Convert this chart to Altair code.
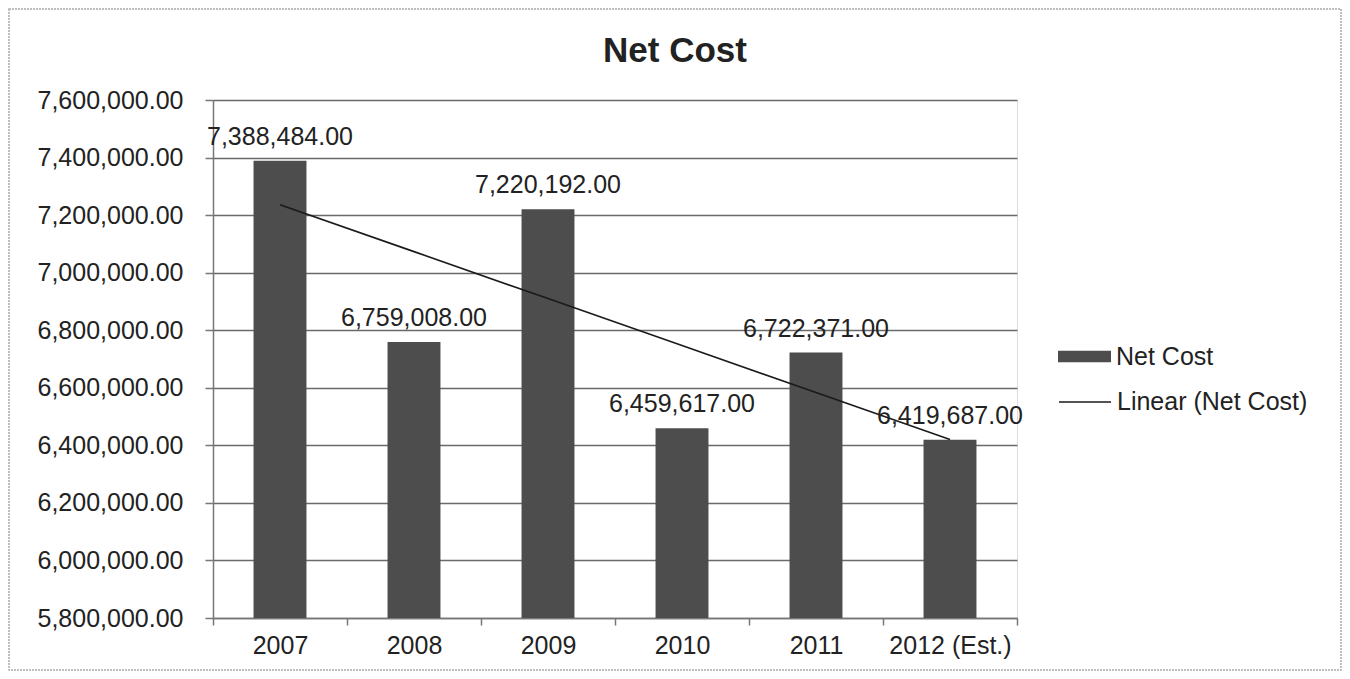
import altair as alt
import pandas as pd
import numpy as np

years = ["2007", "2008", "2009", "2010", "2011", "2012 (Est.)"]
net_cost = [7388484, 6759008, 7220192, 6459617, 6722371, 6419687]
y_ticks = [5800000, 6000000, 6200000, 6400000, 6600000, 6800000,
           7000000, 7200000, 7400000, 7600000]
bar_series = "Net Cost"
trend_series = "Linear (Net Cost)"

# least-squares linear trend of the data (like Excel's "Linear" trendline)
idx = np.arange(len(net_cost))
slope, intercept = np.polyfit(idx, net_cost, 1)
trend = list(slope * idx + intercept)

df = pd.DataFrame({
    "year": years,
    "cost": net_cost,
    "trend": trend,
    "series": bar_series,
    "tseries": trend_series,
})

FONT = "Liberation Sans"

x_enc = alt.X(
    "year:N", sort=years,
    scale=alt.Scale(paddingInner=0, paddingOuter=0),
    axis=alt.Axis(title=None, labelAngle=0, tickBand="extent", ticks=True,
                  tickSize=7, tickColor="#777", tickWidth=1.5,
                  domainColor="#777", domainWidth=1.5,
                  labelFontSize=25, labelFont=FONT, labelColor="#222",
                  labelPadding=8, grid=False),
)
y_scale = alt.Scale(domain=[y_ticks[0], y_ticks[-1]], nice=False, zero=False)
y_axis = alt.Axis(title=None, values=y_ticks, format=",.2f",
                  labelFontSize=25, labelFont=FONT, labelColor="#222",
                  labelPadding=22, tickSize=8, tickColor="#777", tickWidth=1.5,
                  domainColor="#777", domainWidth=1.5,
                  grid=True, gridColor="#6a6a6a", gridWidth=1.5)

base = alt.Chart(df)

bars = base.mark_bar(width=alt.RelativeBandSize(0.395)).encode(
    x=x_enc,
    y=alt.Y("cost:Q", scale=y_scale, axis=y_axis),
    y2=alt.datum(y_ticks[0]),
    fill=alt.Fill("series:N", scale=alt.Scale(range=["#4d4d4d"]),
                  legend=alt.Legend(title=None, orient="none", legendX=845, legendY=230,
                                    symbolType="M-1,-0.22H1V0.22H-1Z", symbolSize=2809,
                                    symbolStrokeWidth=0,
                                    labelFontSize=25, labelFont=FONT, labelColor="#222",
                                    labelOffset=5, labelLimit=400, padding=0)),
)

line = base.mark_line(strokeWidth=1.6).encode(
    x=x_enc,
    y=alt.Y("trend:Q", scale=y_scale, axis=y_axis),
    stroke=alt.Stroke("tseries:N", scale=alt.Scale(range=["#1a1a1a"]),
                      legend=alt.Legend(title=None, orient="none", legendX=845, legendY=275,
                                        symbolType="stroke", symbolSize=2704,
                                        symbolStrokeWidth=1.6,
                                        labelFontSize=25, labelFont=FONT, labelColor="#222",
                                        labelOffset=5, labelLimit=400, padding=0)),
)

labels = base.mark_text(baseline="alphabetic", dy=-16, fontSize=25, font=FONT,
                        color="#222").encode(
    x=x_enc,
    y=alt.Y("cost:Q", scale=y_scale, axis=y_axis),
    text=alt.Text("cost:Q", format=",.2f"),
)

frame = alt.Chart(alt.Data(values=[{}])).mark_rect(
    fill=None, stroke="#aaaaaa", strokeWidth=1.5, strokeDash=[2, 1]
).encode(
    x=alt.value(-204), x2=alt.value(1128), y=alt.value(-91), y2=alt.value(570)
)

chart = alt.layer(frame, bars, line, labels).properties(
    width=804, height=518,
    title=alt.Title("Net Cost", fontSize=35, font=FONT, fontWeight="bold",
                    color="#222", anchor="middle", frame="bounds", offset=18,
                    baseline="alphabetic", dy=107),
    padding={"left": 205, "top": 92, "right": 325, "bottom": 53},
    autosize=alt.AutoSizeParams(type="none"),
).configure_view(stroke=None).configure(background="white")

chart.save("out.html", embed_options={"renderer": "svg", "actions": False})
